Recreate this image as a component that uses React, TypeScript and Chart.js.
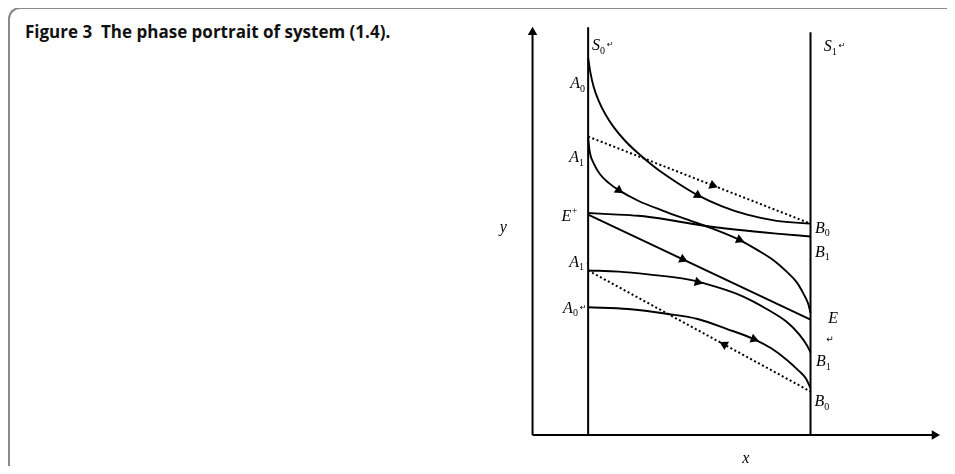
import { useEffect, useRef } from "react";
import { Chart, registerables } from "chart.js";

Chart.register(...registerables);

// Phase-plane sketch: x runs along the horizontal axis, y up the vertical one.
// Separatrix walls S0 (x = 1) and S1 (x = 5).
const s0X = 1.0;
const s1X = 5.0;
const s0Top = 7.31;
const s1Top = 7.22;
const xAxisEnd = 7.23;
const yAxisEnd = 7.22;

// Orbit from A0 (top of S0) down to B0 on S1
const topA0X = [1.0, 1.04, 1.1, 1.19, 1.31, 1.46, 1.66, 1.9, 2.2, 2.56, 2.97, 3.41, 3.86, 4.39, 5.0];
const topA0Y = [6.76, 6.5, 6.24, 5.99, 5.75, 5.52, 5.28, 5.05, 4.8, 4.55, 4.3, 4.1, 3.95, 3.84, 3.79];

// Orbit from A1 curving into E
const upperA1X = [1.0, 1.03, 1.1, 1.21, 1.37, 1.55, 1.9, 2.35, 2.79, 3.24, 3.72, 4.04, 4.34, 4.57, 4.75, 4.87, 4.96, 5.0];
const upperA1Y = [5.32, 5.07, 4.87, 4.68, 4.52, 4.39, 4.2, 4.02, 3.86, 3.7, 3.5, 3.32, 3.13, 2.93, 2.74, 2.54, 2.35, 2.19];

// Orbit leaving E+ towards B1
const ePlusB1X = [1.0, 1.37, 1.9, 2.44, 2.97, 3.68, 4.39, 5.0];
const ePlusB1Y = [3.98, 3.96, 3.93, 3.86, 3.77, 3.68, 3.61, 3.56];

// Straight connection E+ — E
const ePlusEX = [1.0, 5.0];
const ePlusEY = [3.95, 2.07];

// Lower orbit from A1 into B1
const lowerA1X = [1.0, 1.55, 2.08, 2.79, 3.32, 3.77, 4.21, 4.57, 4.8, 4.94, 5.0];
const lowerA1Y = [2.95, 2.93, 2.88, 2.79, 2.65, 2.49, 2.26, 2.03, 1.8, 1.6, 1.48];

// Lower orbit from A0 into B0
const lowerA0X = [1.0, 1.72, 2.44, 2.97, 3.5, 3.98, 4.3, 4.57, 4.78, 4.92, 5.0];
const lowerA0Y = [2.29, 2.26, 2.17, 2.08, 1.9, 1.72, 1.55, 1.35, 1.16, 1.01, 0.84];

// Dotted chords A1 — B0
const upperChordX = [1.0, 5.0];
const upperChordY = [5.35, 3.79];
const lowerChordX = [1.0, 5.0];
const lowerChordY = [2.95, 0.78];

// Direction markers: which curve, at what x, and whether the flow runs with x (1) or against it (-1)
const arrowCurve = ["topA0", "upperChord", "upperA1", "upperA1", "ePlusE", "lowerA1", "lowerA0", "lowerChord"];
const arrowAtX = [2.97, 3.24, 1.55, 3.72, 2.7, 2.97, 3.98, 3.45];
const arrowSense = [1, 1, 1, 1, 1, 1, 1, -1];

// Point labels: italic letter, subscript / superscript, trailing mark, anchor (left, baseline)
const labelBase = ["S", "S", "A", "A", "E", "A", "A", "B", "B", "E", "B", "B", "y", "x"];
const labelSub = ["0", "1", "0", "1", "", "1", "0", "0", "1", "", "1", "0", "", ""];
const labelSup = ["", "", "", "", "+", "", "", "", "", "", "", "", "", ""];
const labelMark = ["↵", "↵", "", "", "", ".", "↵", "", "", "", "", "", "", ""];
const labelX = [1.07, 5.24, 0.68, 0.66, 0.52, 0.66, 0.55, 5.08, 5.08, 5.32, 5.1, 5.07, -0.59, 3.77];
const labelY = [6.9, 6.88, 6.22, 4.89, 3.84, 3.02, 2.19, 3.63, 3.2, 2.01, 1.23, 0.52, 3.64, -0.5];

const curves: Record<string, [number[], number[]]> = {
  topA0: [topA0X, topA0Y],
  upperA1: [upperA1X, upperA1Y],
  ePlusB1: [ePlusB1X, ePlusB1Y],
  ePlusE: [ePlusEX, ePlusEY],
  lowerA1: [lowerA1X, lowerA1Y],
  lowerA0: [lowerA0X, lowerA0Y],
  upperChord: [upperChordX, upperChordY],
  lowerChord: [lowerChordX, lowerChordY],
};

const toPoints = (xs: number[], ys: number[]) => xs.map((x, i) => ({ x, y: ys[i] }));

// Locate a marker on a curve by linear interpolation and keep the local direction
function markerOn(name: string, xa: number, sense: number) {
  const [xs, ys] = curves[name];
  let i = 0;
  while (i < xs.length - 2 && xs[i + 1] < xa) i++;
  const t = (xa - xs[i]) / (xs[i + 1] - xs[i]);
  const y = ys[i] + t * (ys[i + 1] - ys[i]);
  return { x: xa, y, dx: sense * (xs[i + 1] - xs[i]), dy: sense * (ys[i + 1] - ys[i]) };
}

const markers = [
  ...arrowCurve.map((c, i) => markerOn(c, arrowAtX[i], arrowSense[i])),
  { x: 0, y: yAxisEnd, dx: 0, dy: 1 },
  { x: xAxisEnd, y: 0, dx: 1, dy: 0 },
];

const labelPlugin = {
  id: "phaseLabels",
  afterDatasetsDraw(chart: any) {
    const { ctx } = chart;
    const sx = chart.scales.x;
    const sy = chart.scales.y;
    ctx.save();
    ctx.fillStyle = "#000";
    ctx.textBaseline = "alphabetic";
    labelBase.forEach((base, i) => {
      let px = sx.getPixelForValue(labelX[i]);
      const py = sy.getPixelForValue(labelY[i]);
      ctx.font = 'italic 16px "Liberation Serif"';
      ctx.fillText(base, px, py);
      px += ctx.measureText(base).width;
      if (labelSub[i]) {
        ctx.font = '10px "Liberation Serif"';
        ctx.fillText(labelSub[i], px, py + 3.5);
        px += ctx.measureText(labelSub[i]).width;
      }
      if (labelSup[i]) {
        ctx.font = '10px "Liberation Serif"';
        ctx.fillText(labelSup[i], px + 0.5, py - 7);
        px += ctx.measureText(labelSup[i]).width;
      }
      const mark = labelMark[i];
      if (mark) {
        ctx.font = '8px "DejaVu Sans"';
        ctx.fillText(mark, px + 2, py - 3);
      }
    });
    // paragraph mark under E
    const ex = sx.getPixelForValue(labelX[9]);
    const ey = sy.getPixelForValue(labelY[9]);
    ctx.font = '9px "DejaVu Sans"';
    ctx.fillText("↵", ex - 2, ey + 19);
    ctx.restore();
  },
};

export default function App() {
  const ref = useRef<HTMLCanvasElement>(null);

  useEffect(() => {
    const solid = (xs: number[], ys: number[], w = 1.9) => ({
      data: toPoints(xs, ys),
      showLine: true,
      borderColor: "#000",
      borderWidth: w,
      pointRadius: 0,
      cubicInterpolationMode: "monotone" as const,
      clip: false as const,
    });
    const dotted = (xs: number[], ys: number[]) => ({
      ...solid(xs, ys, 2),
      borderDash: [2, 2.5],
    });

    const chart = new Chart(ref.current!, {
      type: "scatter",
      data: {
        datasets: [
          solid([0, 0], [0, yAxisEnd], 2),
          solid([0, xAxisEnd], [0, 0], 2),
          solid([s0X, s0X], [0, s0Top], 2),
          solid([s1X, s1X], [0, s1Top], 2),
          solid(topA0X, topA0Y),
          solid(upperA1X, upperA1Y),
          solid(ePlusB1X, ePlusB1Y),
          solid(ePlusEX, ePlusEY),
          solid(lowerA1X, lowerA1Y),
          solid(lowerA0X, lowerA0Y),
          dotted(upperChordX, upperChordY),
          dotted(lowerChordX, lowerChordY),
          {
            data: markers.map((m) => ({ x: m.x, y: m.y })),
            showLine: false,
            pointStyle: "triangle",
            pointRadius: 5.5,
            pointBorderWidth: 0,
            pointBackgroundColor: "#000",
            pointBorderColor: "#000",
            clip: false as const,
            pointRotation: (c: any) => {
              const m = markers[c.dataIndex];
              if (!m) return 0;
              const sx = c.chart.scales.x;
              const sy = c.chart.scales.y;
              const dxp = sx.getPixelForValue(m.x + m.dx) - sx.getPixelForValue(m.x);
              const dyp = sy.getPixelForValue(m.y + m.dy) - sy.getPixelForValue(m.y);
              return (Math.atan2(dxp, -dyp) * 180) / Math.PI;
            },
          } as any,
        ],
      },
      options: {
        responsive: false,
        animation: false,
        devicePixelRatio: 1,
        layout: { padding: { left: 493.625, right: 0.125, top: 3.875, bottom: 3.25 } },
        plugins: { legend: { display: false }, tooltip: { enabled: false }, title: { display: false } },
        events: [],
        scales: {
          x: { type: "linear", min: -0.7, max: 7.5, display: false },
          y: { type: "linear", min: -0.6, max: 7.7, display: false },
        },
      },
      plugins: [labelPlugin],
    });
    return () => chart.destroy();
  }, []);

  return (
    <div style={{ position: "relative", width: 939, height: 458 }}>
      <div
        style={{
          position: "absolute",
          left: 0,
          top: -1,
          width: 947,
          height: 467,
          boxSizing: "border-box",
          borderTop: "2px solid #8a8a8a",
          borderLeft: "2px solid #8a8a8a",
          borderTopLeftRadius: 12,
        }}
      />
      <div
        style={{
          position: "absolute",
          left: 17,
          top: 14,
          fontFamily: '"Open Sans", sans-serif',
          fontWeight: 700,
          fontSize: 17,
          lineHeight: "20px",
          whiteSpace: "pre",
          color: "#111",
        }}
      >
        {"Figure 3  The phase portrait of system (1.4)."}
      </div>
      <canvas
        ref={ref}
        width={955}
        height={474}
        style={{ position: "absolute", left: -8, top: -8 }}
      />
    </div>
  );
}
